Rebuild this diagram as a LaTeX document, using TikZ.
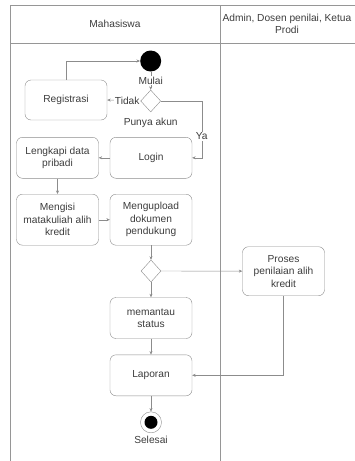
\documentclass[tikz,border=0pt]{standalone}
\usepackage{fontspec}
\setsansfont{Liberation Sans}
\RequirePackage{xcolor}
\definecolor{lanegray}{RGB}{150,150,150}
\definecolor{flowgray}{RGB}{140,140,140}
\definecolor{txtgray}{RGB}{60,60,60}
\tikzset{every picture/.style={/utils/exec={\sffamily}}}
\usetikzlibrary{positioning}
\usetikzlibrary{shapes.geometric,arrows.meta}

\begin{document}
\begin{tikzpicture}[x=1pt,y=-1pt,
    font=\fontsize{10.2}{12.4}\selectfont, text=txtgray,
    act/.style={draw=flowgray, rounded corners=6pt, align=center,
      minimum width=82pt, minimum height=41pt, inner sep=2pt},
    dec/.style={draw=flowgray, diamond, minimum width=20pt, minimum height=22pt, inner sep=0pt},
    flow/.style={draw=flowgray, -{Stealth[length=3.5pt,width=3pt]}},
    lbl/.style={fill=white, inner sep=1pt}]
  \useasboundingbox (0,0) rectangle (355,461);

  % swimlanes
  \draw [lanegray, line width=0.8pt] (10,461) -- (10,5) -- (360,5);
  \draw [lanegray, line width=0.8pt] (10,43) -- (360,43);
  \draw [lanegray, line width=0.8pt] (220.7,5) -- (220.7,461);
  \node (lane1) at (115,24) {Mahasiswa};
  \node [align=center] (lane2) at (287,24) {Admin, Dosen penilai, Ketua\\Prodi};

  % activities
  \node [circle, fill=black, minimum size=21pt, inner sep=0pt] (start) at (150.7,61) {};
  \node [dec] (d1) at (150.7,101) {};
  \node [below=2pt of d1] (akun) {Punya akun};
  \node [act, minimum height=40pt] (reg) at (66,100) {Registrasi};
  \node [act] (login) at (151,157.8) {Login};
  \node [act] (data) at (57.5,157.8) {Lengkapi data\\pribadi};
  \node [act, minimum height=51pt] (isi) at (57.5,219.7) {Mengisi\\matakuliah alih\\kredit};
  \node [act, minimum height=51pt] (upload) at (151,219.7) {Mengupload\\dokumen\\pendukung};
  \node [dec] (d2) at (151,271) {};
  \node [act, minimum height=49pt] (nilai) at (283.5,271.2) {Proses\\penilaian alih\\kredit};
  \node [act] (pantau) at (151,318) {memantau\\status};
  \node [act] (lapor) at (151,375.3) {Laporan};
  \node [circle, draw=flowgray, fill=white, minimum size=21pt, inner sep=0pt] (stop) at (151,422.3) {};
  \fill (stop) circle (6.5pt);
  \node [below=0pt of stop] (selesai) {Selesai};

  \coordinate (ya) at (201.7,157.8);

  % connectors
  \draw [flow] (start) -- node[lbl] {Mulai} (d1);
  \draw [flow] (d1.west) -- node[lbl, pos=0.4] {Tidak} (reg.east);
  \draw [flow] (reg.north) |- (start.west);
  \draw [flow] (d1.east) -| node[lbl, pos=0.81] {Ya} (ya) -- (login.east);
  \draw [flow] (login) -- (data);
  \draw [flow] (data) -- (isi);
  \draw [flow] (isi) -- (upload);
  \draw [flow] (upload) -- (d2);
  \draw [flow] (d2) -- (nilai);
  \draw [flow] (d2) -- (pantau);
  \draw [flow] (pantau) -- (lapor);
  \draw [flow] (nilai.south) |- (lapor.east);
  \draw [flow] (lapor) -- (stop);
\end{tikzpicture}
\end{document}
